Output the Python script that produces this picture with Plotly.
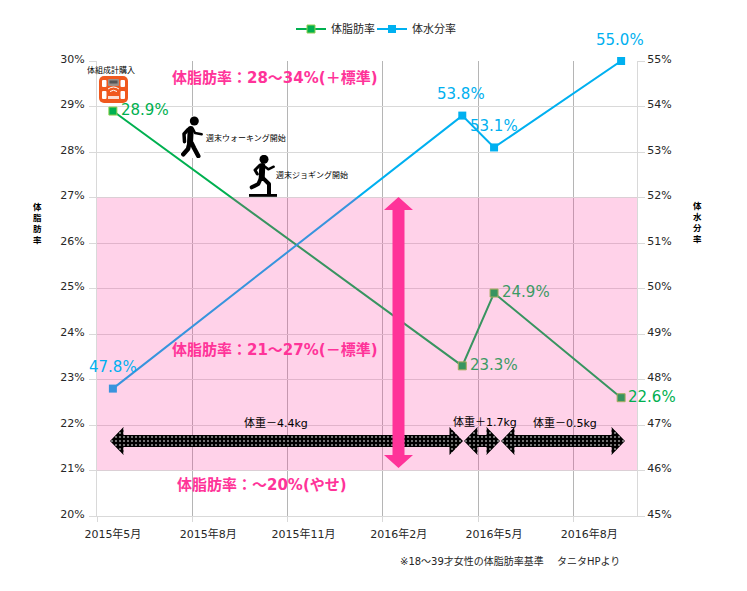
import base64
import plotly.graph_objects as go

# ---- data ----
months = ["2015年5月", "2015年6月", "2015年7月", "2015年8月", "2015年9月", "2015年10月",
          "2015年11月", "2015年12月", "2016年1月", "2016年2月", "2016年3月", "2016年4月",
          "2016年5月", "2016年6月", "2016年7月", "2016年8月", "2016年9月"]
measured_months = ["2015年5月", "2016年4月", "2016年5月", "2016年9月"]
body_fat = [28.9, 23.3, 24.9, 22.6]
body_water = [47.8, 53.8, 53.1, 55.0]
band_low, band_high = 21, 27

FONT = "'DejaVu Sans', 'Noto Sans CJK JP', sans-serif"
JP = "'Noto Sans CJK JP', 'DejaVu Sans', sans-serif"
W, H = 747, 591
L, R, T, B = 97, 637, 61, 516
GREEN, BLUE, PINK = "#00B050", "#00B0F0", "#FF3399"
MUTED = "#3C9A64"


def px(x):
    return (x - L) / (R - L)


def py(y):
    return (B - y) / (B - T)


def svg(w, h, body):
    s = f'<svg xmlns="http://www.w3.org/2000/svg" width="{w}" height="{h}" viewBox="0 0 {w} {h}">{body}</svg>'
    return "data:image/svg+xml;base64," + base64.b64encode(s.encode()).decode()


def place(x0, y0, x1, y1, body):
    return dict(source=svg(x1 - x0, y1 - y0, body), xref="paper", yref="paper",
                x=px(x0), y=py(y0), sizex=(x1 - x0) / (R - L), sizey=(y1 - y0) / (B - T),
                xanchor="left", yanchor="top", sizing="stretch", layer="above")


DOTS = ('<defs><pattern id="d" width="4" height="4" patternUnits="userSpaceOnUse">'
        '<rect width="4" height="4" fill="#000"/><circle cx="2" cy="2" r="0.8" fill="#fff"/>'
        '</pattern></defs>')


def black_arrow(x0, x1):
    w = x1 - x0
    hd = 13.5
    pts = [(0, 14), (hd, 0), (hd, 8), (w - hd, 8), (w - hd, 0), (w, 14), (w - hd, 28), (w - hd, 20),
           (hd, 20), (hd, 28)]
    p = " ".join(f"{a},{b}" for a, b in pts)
    return place(x0, 427, x1, 455, DOTS + f'<polygon points="{p}" fill="url(#d)"/>')


band_img = dict(source=svg(10, 10, '<rect width="10" height="10" fill="#FF3399" fill-opacity="0.22"/>'),
                xref="paper", yref="y", x=0, y=band_high, sizex=1, sizey=band_high - band_low,
                xanchor="left", yanchor="top", sizing="stretch", layer="above")

pink_arrow = place(384, 197, 413, 468,
                   f'<polygon fill="{PINK}" points="14.5,0 29,13 20.5,13 20.5,258 29,258 14.5,271 0,258 8.5,258 8.5,13 0,13"/>')

scale_icon = place(99, 76, 128, 103, '''
<rect width="29" height="27" rx="5" fill="#F0591E"/>
<rect x="9" y="3" width="11" height="7" rx="1" fill="#9a8f88"/>
<rect x="10.5" y="4.5" width="8" height="3" fill="#555"/>
<rect x="3" y="4" width="4.5" height="7" rx="1" fill="#fff"/>
<rect x="21.5" y="4" width="4.5" height="7" rx="1" fill="#fff"/>
<rect x="3" y="15" width="4.5" height="8" rx="1" fill="#fff"/>
<rect x="21.5" y="15" width="4.5" height="8" rx="1" fill="#fff"/>
<path d="M9 13 Q14.5 9 20 13 M11 15.5 Q14.5 13 18 15.5" stroke="#fff" stroke-width="1" fill="none"/>
<rect x="9" y="20" width="11" height="3" fill="#fff" fill-opacity="0.8"/>
''')

walker = place(181, 116, 204, 158, '''
<rect width="23" height="42" fill="#fff"/>
<circle cx="13.3" cy="5" r="4.5"/>
<g stroke="#000" fill="none" stroke-linecap="round" stroke-linejoin="round">
<path d="M9.7 13 L9 27" stroke-width="6"/>
<path d="M7.3 13.3 L3 18 L3.5 25.7" stroke-width="3.5"/>
<path d="M12 13 L14 17 L20.7 18.3" stroke-width="2.5"/>
<path d="M10.7 27.3 L13 32 L17.3 40" stroke-width="4.5"/>
<path d="M8 29 L7 33 L2.3 38.3" stroke-width="4.5"/>
</g>''')

jogger = place(248, 155, 278, 197, '''
<circle cx="16" cy="4.3" r="4.5"/>
<g stroke="#000" fill="none" stroke-linecap="round" stroke-linejoin="round">
<path d="M14.3 11 L13.7 23" stroke-width="6"/>
<path d="M17 11.7 L20.3 14.3 L25.7 11.7" stroke-width="2.5"/>
<path d="M12 10 L7 15 L9.3 19" stroke-width="3"/>
<path d="M15.3 23.3 L21 29 L21 39" stroke-width="4"/>
<path d="M13 23 L10.3 29 L3.7 32.3" stroke-width="4"/>
</g>
<rect x="1" y="39" width="28" height="2.8"/>''')

fig = go.Figure()
fig.add_trace(go.Scatter(x=measured_months, y=body_fat, name="体脂肪率", mode="lines+markers", cliponaxis=False,
                         line=dict(color=GREEN, width=2),
                         marker=dict(symbol="square", size=8, color=GREEN, line=dict(color="#92D050", width=1))))
fig.add_trace(go.Scatter(x=measured_months, y=body_water, name="体水分率", mode="lines+markers", yaxis="y2",
                         cliponaxis=False, line=dict(color=BLUE, width=2),
                         marker=dict(symbol="square", size=8, color=BLUE)))


def value_label(i, values, color, yref, xs, ys):
    return dict(x=measured_months[i], y=values[i], xref="x", yref=yref, text=f"{values[i]:.1f}%",
                showarrow=False, xshift=xs, yshift=ys,
                font=dict(family=FONT, size=15, color=color))


def note(x, y, text, size, color="#000000", bold=False, anchor="center", family=JP):
    t = f"<b>{text}</b>" if bold else text
    return dict(x=px(x), y=py(y), xref="paper", yref="paper", text=t, showarrow=False, xanchor=anchor,
                yanchor="middle", font=dict(family=family, size=size, color=color))


annotations = [
    value_label(0, body_fat, GREEN, "y", 32, 1),
    value_label(1, body_fat, MUTED, "y", 32, 1),
    value_label(2, body_fat, MUTED, "y", 32, 1),
    value_label(3, body_fat, GREEN, "y", 31, 1),
    value_label(0, body_water, BLUE, "y2", 0, 22),
    value_label(1, body_water, BLUE, "y2", -1, 22),
    value_label(2, body_water, BLUE, "y2", 0, 21),
    value_label(3, body_water, BLUE, "y2", -1, 21),
    note(275, 78, "体脂肪率：28～34%(＋標準)", 15, PINK, True, family=FONT),
    note(275, 350, "体脂肪率：21～27%(－標準)", 15, PINK, True, family=FONT),
    note(262, 485, "体脂肪率：～20%(やせ)", 15, PINK, True, family=FONT),
    note(111, 69, "体組成計購入", 8),
    note(204, 137, "週末ウォーキング開始", 8, anchor="left"),
    note(274, 174, "週末ジョギング開始", 8, anchor="left"),
    note(276, 423, "体重－4.4kg", 11, family=FONT),
    note(485, 422, "体重＋1.7kg", 11, family=FONT),
    note(565, 423, "体重－0.5kg", 11, family=FONT),
    note(398, 561, "※18～39才女性の体脂肪率基準　 タニタHPより", 10, "#262626", anchor="left", family=FONT),
    note(37, 223, "体<br>脂<br>肪<br>率", 8.5, bold=True),
    note(697, 221, "体<br>水<br>分<br>率", 8.5, bold=True),
]

fig.update_layout(
    width=W, height=H, autosize=False,
    margin=dict(l=L, r=W - R, t=T, b=H - B, pad=0),
    paper_bgcolor="white", plot_bgcolor="white",
    font=dict(family=FONT, size=11, color="#262626"),
    showlegend=True,
    legend=dict(orientation="h", x=px(291), y=py(29), xanchor="left", yanchor="middle", entrywidth=36,
                entrywidthmode="pixels",
                font=dict(family=FONT, size=11, color="#262626"), bgcolor="rgba(0,0,0,0)"),
    xaxis=dict(type="category", categoryorder="array", categoryarray=months, range=[-0.5, 16.5],
               tickson="boundaries", dtick=3, ticks="outside", ticklen=5, tickcolor="#D9D9D9",
               ticklabelstandoff=8,
               showgrid=True, gridcolor="#B5B5B5", gridwidth=1, zeroline=False,
               showline=True, linecolor="#D9D9D9", tickfont=dict(size=11, color="#262626"), tickangle=0),
    yaxis=dict(range=[20, 30], dtick=1, ticksuffix="%", ticks="outside", ticklen=7, tickcolor="#D9D9D9",
               ticklabelstandoff=2, ticklabelshift=-2,
               showgrid=True, gridcolor="#D9D9D9", zeroline=False, showline=True, linecolor="#D9D9D9",
               tickfont=dict(size=11, color="#262626")),
    yaxis2=dict(range=[45, 55], dtick=1, ticksuffix="%", overlaying="y", side="right", ticks="outside",
                ticklen=7, ticklabelshift=-2, tickcolor="#D9D9D9", showgrid=False, zeroline=False, showline=True,
                linecolor="#D9D9D9", tickfont=dict(size=11, color="#262626")),
    annotations=annotations,
    images=[band_img,
            black_arrow(110, 463), black_arrow(464, 500), black_arrow(501, 625),
            pink_arrow, scale_icon, walker, jogger],
)

POST = """
document.body.style.margin='0';document.body.style.overflow='hidden';
var unclip=function(){document.querySelectorAll('.legend .scrollbox').forEach(function(e){e.removeAttribute('clip-path');e.style.clipPath='none';});};
unclip();setTimeout(unclip,50);setTimeout(unclip,300);
"""
fig.write_html("out.html", config={"displayModeBar": False}, post_script=POST)
